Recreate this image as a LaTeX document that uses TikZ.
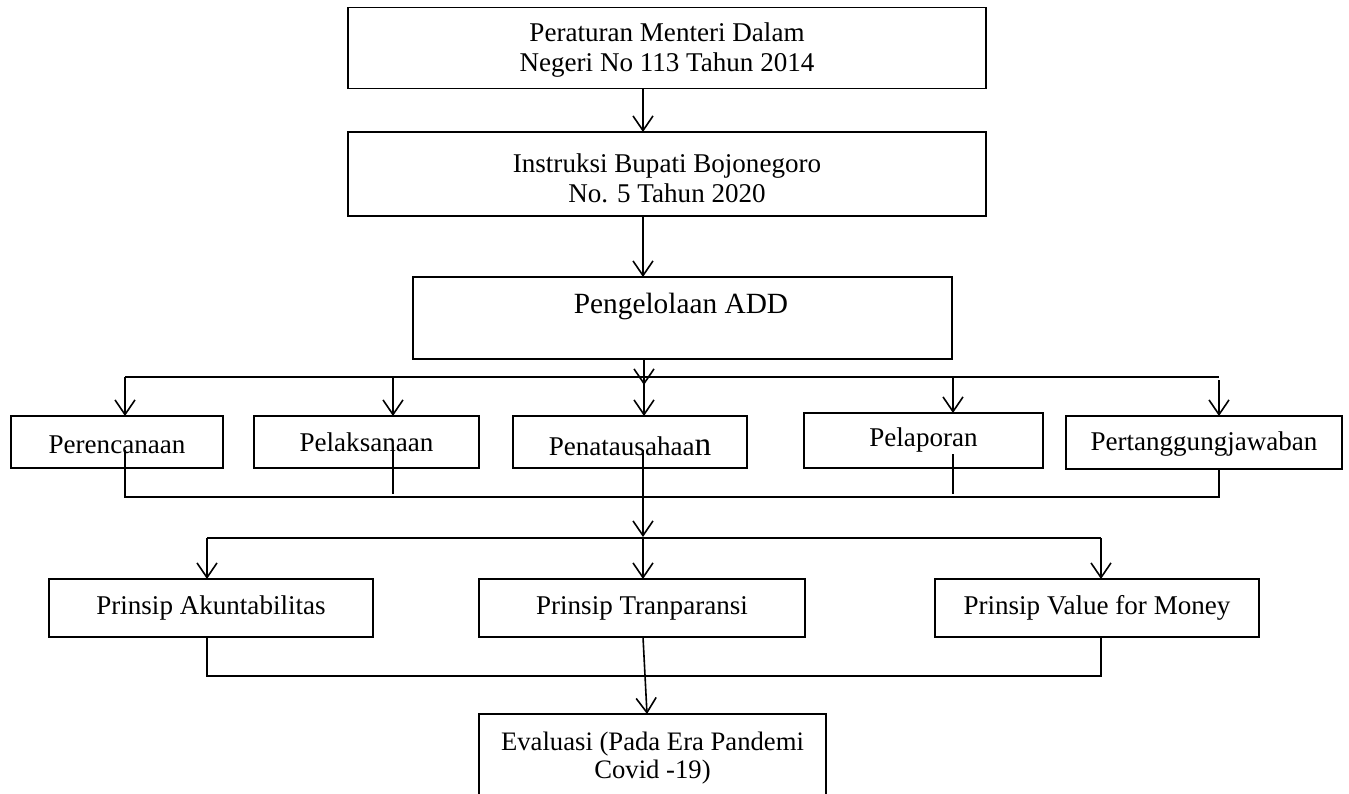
\documentclass[tikz,border=0pt]{standalone}
\usepackage{fontspec}
\setmainfont{Liberation Serif}
\usetikzlibrary{arrows.meta}
% box node #1 at (#2,#3), size #4 x #5 px, text node #1t at (#2+#6 offset?) -> y #6
\newcommand\bx[7]{%
  \node[box, minimum width={#4*0.75pt}, minimum height={#5*0.75pt}] (#1) at (#2,#3) {};
  \node[txt] (#1t) at (#2,#6) {#7};}
\begin{document}
\begin{tikzpicture}[x=0.75pt,y=-0.75pt,
  box/.style={draw, line width=1.1pt, inner sep=0pt, outer sep=0pt},
  txt/.style={inner sep=0pt, align=center, font=\fontsize{20.3}{22.5}\selectfont},
  conn/.style={line width=1.2pt},
  arr/.style={line width=1.2pt, -{Straight Barb[length=11pt,width=15pt]}}]
\useasboundingbox (0,0) rectangle (1349,793);
\clip (0,0) rectangle (1349,793);

% top boxes
\bx{b1}{667}{48}{638}{81}{50}{Peraturan Menteri Dalam\\Negeri No 113 Tahun 2014}
\bx{b2}{667}{174}{638}{84}{178}{Instruksi Bupati Bojonegoro\\No. 5 Tahun 2020}
\node[box, minimum width={539*0.75pt}, minimum height={82*0.75pt}] (b3) at (682.5,318) {};
\node[txt, font=\fontsize{22}{26}\selectfont] (b3t) at (681,306) {Pengelolaan ADD};

\coordinate (x643) at (643,0);
\coordinate (x644) at (644,0);

\draw[arr] (b1.south -| x643) -- (b2.north -| x643);
\draw[arr] (b2.south -| x643) -- (b3.north -| x643);
\coordinate (d3) at (644,385);
\draw[arr] (b3.south -| x644) -- (d3);

% branch line 1
\coordinate (h1a) at (125,377);
\coordinate (h1b) at (393,377);
\coordinate (h1c) at (644,377);
\coordinate (h1d) at (953,377);
\coordinate (h1e) at (1219,377);
\coordinate (h1e2) at (1219,380);
\draw[conn] (h1a) -- (h1e);

% row 2 boxes
\bx{r1}{117}{442}{212}{52}{445}{Perencanaan}
\bx{r2}{366.5}{442}{225}{52}{442}{Pelaksanaan}
\bx{r3}{630}{442}{234}{52}{446}{Penatausahaa{\fontsize{25}{25}\selectfont n}}
\bx{r4}{923.5}{440.5}{239}{55}{440}{Pelaporan}
\bx{r5}{1204}{442.5}{276}{53}{444}{Pertanggungjawaban}

\draw[arr] (h1a) -- (r1.north -| h1a);
\draw[arr] (h1b) -- (r2.north -| h1b);
\draw[arr] (h1c) -- (r3.north -| h1c);
\draw[arr] (h1d) -- (r4.north -| h1d);
\draw[arr] (h1e2) -- (r5.north -| h1e2);

% collector 1
\coordinate (v1a) at (125,450);
\coordinate (v1b) at (125,497);
\coordinate (v2a) at (393,447);
\coordinate (v2b) at (393,494);
\coordinate (v3a) at (643,450);
\coordinate (v3b) at (643,537);
\coordinate (v4a) at (953,454);
\coordinate (v4b) at (953,494);
\coordinate (v5b) at (1219,497);
\draw[conn] (v1a) -- (v1b) -- (v5b) -- (r5.south -| v5b);
\draw[conn] (v2a) -- (v2b);
\draw[conn] (v4a) -- (v4b);
\draw[arr] (v3a) -- (v3b);

% branch line 2
\coordinate (h3a) at (207,538);
\coordinate (h3b) at (643,538);
\coordinate (h3c) at (1101,538);
\draw[conn] (h3a) -- (h3c);

% row 3 boxes
\bx{p1}{211}{608}{324}{58}{608}{Prinsip Akuntabilitas}
\bx{p2}{642}{608}{326}{58}{608}{Prinsip Tranparansi}
\bx{p3}{1097}{608}{324}{58}{608}{Prinsip Value for Money}

\draw[arr] (h3a) -- (p1.north -| h3a);
\draw[arr] (h3b) -- (p2.north -| h3b);
\draw[arr] (h3c) -- (p3.north -| h3c);

% collector 2
\coordinate (h4a) at (207,676);
\coordinate (h4b) at (1101,676);
\draw[conn] (p1.south -| h4a) -- (h4a) -- (h4b) -- (p3.south -| h4b);

% evaluasi
\node[box, anchor=north, minimum width={347*0.75pt}, minimum height={140*0.75pt}] (e) at (652.5,714) {};
\node[txt, font=\fontsize{20}{21}\selectfont] (et) at (652.5,758) {Evaluasi (Pada Era Pandemi\\Covid -19)};
\coordinate (etop) at (647,714);
\draw[arr] (p2.south -| h3b) -- (etop);
\end{tikzpicture}
\end{document}
